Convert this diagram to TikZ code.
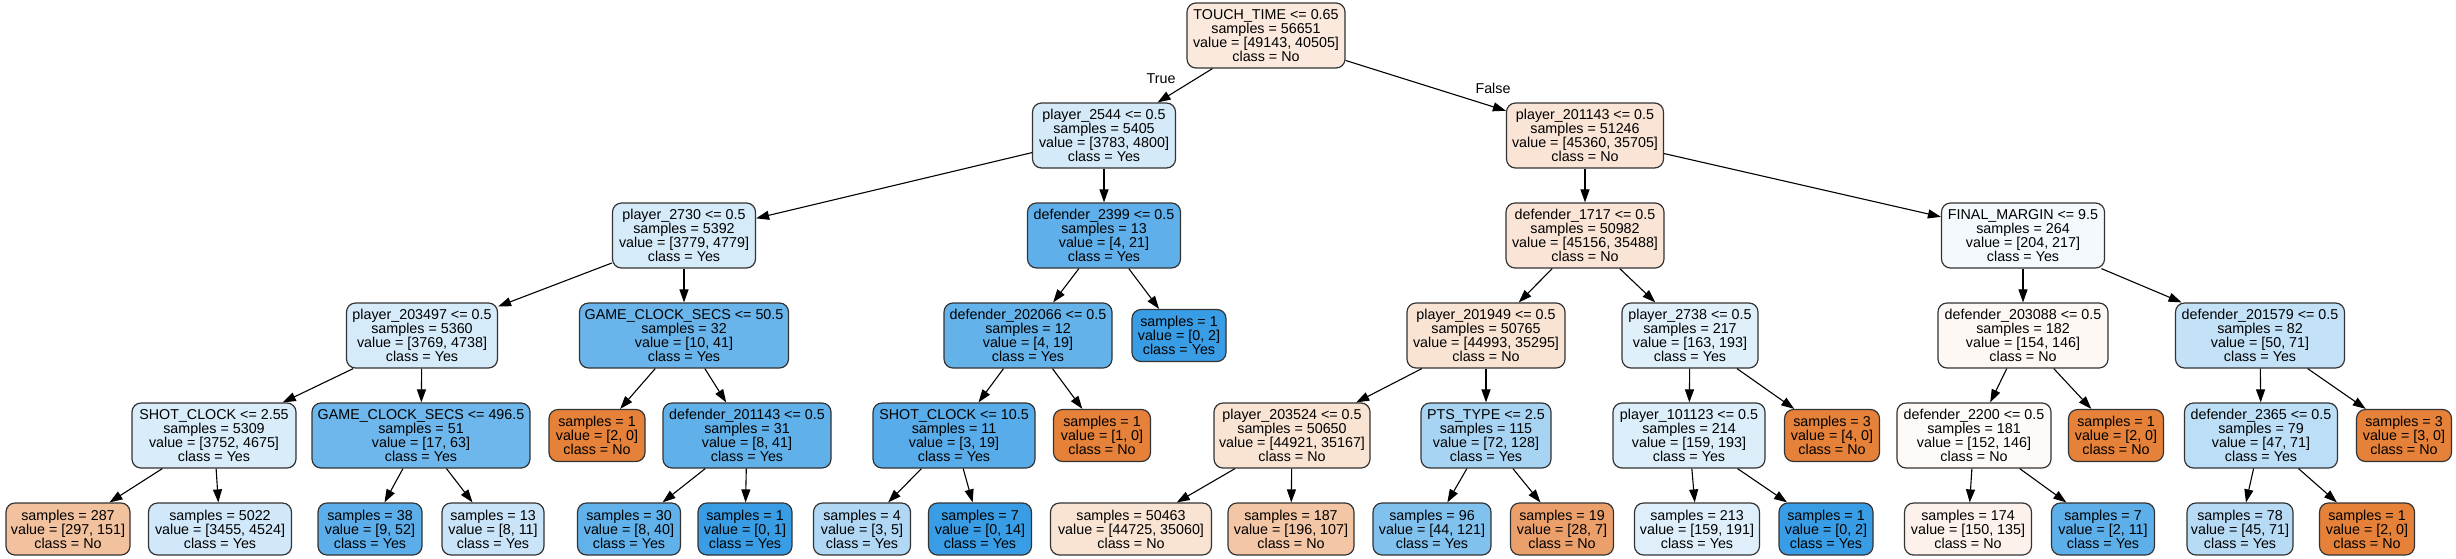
\documentclass[tikz,border=0pt]{standalone}
\usepackage{fontspec}
\setmainfont{Liberation Sans}
\usetikzlibrary{arrows.meta}
\definecolor{cno}{RGB}{229,129,57}
\definecolor{cyes}{RGB}{57,157,229}
\begin{document}
\begin{tikzpicture}[x=1pt,y=-1pt,
  tn/.style={draw=black!80, line width=1.2pt, rounded corners=9pt, inner sep=0pt, align=center,
    font=\fontsize{14.3}{14.1}\selectfont, minimum height=65pt},
  lf/.style={tn, minimum height=52pt},
  ed/.style={-{Triangle[length=13pt,width=9pt]}, line width=1.1pt, draw=black},
  lbl/.style={font=\fontsize{14.3}{14.1}\selectfont, inner sep=0pt}]
\useasboundingbox (0,0) rectangle (2456,558);
% row 0
\node[tn, minimum width=158pt, fill=cno!17.6!white] (root) at (1266,35.5) {TOUCH\_TIME <= 0.65\\samples = 56651\\value = [49143, 40505]\\class = No};
% row 1
\node[tn, minimum width=143pt, fill=cyes!21.2!white] (n2544) at (1104,135.5) {player\_2544 <= 0.5\\samples = 5405\\value = [3783, 4800]\\class = Yes};
\node[tn, minimum width=157pt, fill=cno!21.3!white] (n201143) at (1585,135.5) {player\_201143 <= 0.5\\samples = 51246\\value = [45360, 35705]\\class = No};
% row 2
\node[tn, minimum width=143pt, fill=cyes!20.9!white] (n2730) at (684,235.5) {player\_2730 <= 0.5\\samples = 5392\\value = [3779, 4779]\\class = Yes};
\node[tn, minimum width=153pt, fill=cyes!81!white] (d2399) at (1104,235.5) {defender\_2399 <= 0.5\\samples = 13\\value = [4, 21]\\class = Yes};
\node[tn, minimum width=158pt, fill=cno!21.4!white] (d1717) at (1585,235.5) {defender\_1717 <= 0.5\\samples = 50982\\value = [45156, 35488]\\class = No};
\node[tn, minimum width=163pt, fill=cyes!6!white] (fm) at (2023,235.5) {FINAL\_MARGIN <= 9.5\\samples = 264\\value = [204, 217]\\class = Yes};
% row 3
\node[tn, minimum width=151pt, fill=cyes!20.5!white] (p203497) at (422,335.5) {player\_203497 <= 0.5\\samples = 5360\\value = [3769, 4738]\\class = Yes};
\node[tn, minimum width=209pt, fill=cyes!75.6!white] (gcs50) at (684,335.5) {GAME\_CLOCK\_SECS <= 50.5\\samples = 32\\value = [10, 41]\\class = Yes};
\node[tn, minimum width=168pt, fill=cyes!79!white] (d202066) at (1028,335.5) {defender\_202066 <= 0.5\\samples = 12\\value = [4, 19]\\class = Yes};
\node[lf, minimum width=94pt, fill=cyes] (leafA) at (1179,335.5) {samples = 1\\value = [0, 2]\\class = Yes};
\node[tn, minimum width=158pt, fill=cno!21.6!white] (p201949) at (1486,335.5) {player\_201949 <= 0.5\\samples = 50765\\value = [44993, 35295]\\class = No};
\node[tn, minimum width=136pt, fill=cyes!15.5!white] (p2738) at (1690,335.5) {player\_2738 <= 0.5\\samples = 217\\value = [163, 193]\\class = Yes};
\node[tn, minimum width=170pt, fill=cno!5.2!white] (d203088) at (2023,335.5) {defender\_203088 <= 0.5\\samples = 182\\value = [154, 146]\\class = No};
\node[tn, minimum width=169pt, fill=cyes!29.6!white] (d201579) at (2260,335.5) {defender\_201579 <= 0.5\\samples = 82\\value = [50, 71]\\class = Yes};
% row 4
\node[tn, minimum width=164pt, fill=cyes!19.7!white] (sc255) at (214,435.5) {SHOT\_CLOCK <= 2.55\\samples = 5309\\value = [3752, 4675]\\class = Yes};
\node[tn, minimum width=218pt, fill=cyes!73!white] (gcs496) at (421,435.5) {GAME\_CLOCK\_SECS <= 496.5\\samples = 51\\value = [17, 63]\\class = Yes};
\node[lf, minimum width=96pt, fill=cno] (leafB) at (597,435.5) {samples = 1\\value = [2, 0]\\class = No};
\node[tn, minimum width=168pt, fill=cyes!80.5!white] (d201143) at (747,435.5) {defender\_201143 <= 0.5\\samples = 31\\value = [8, 41]\\class = Yes};
\node[tn, minimum width=162pt, fill=cyes!84.2!white] (sc105) at (954,435.5) {SHOT\_CLOCK <= 10.5\\samples = 11\\value = [3, 19]\\class = Yes};
\node[lf, minimum width=97pt, fill=cno] (leafC) at (1102,435.5) {samples = 1\\value = [1, 0]\\class = No};
\node[tn, minimum width=156pt, fill=cno!21.7!white] (p203524) at (1292,435.5) {player\_203524 <= 0.5\\samples = 50650\\value = [44921, 35167]\\class = No};
\node[tn, minimum width=130pt, fill=cyes!43.8!white] (pts) at (1486,435.5) {PTS\_TYPE <= 2.5\\samples = 115\\value = [72, 128]\\class = Yes};
\node[tn, minimum width=152pt, fill=cyes!17.6!white] (p101123) at (1689,435.5) {player\_101123 <= 0.5\\samples = 214\\value = [159, 193]\\class = Yes};
\node[lf, minimum width=95pt, fill=cno] (leafD) at (1832,435.5) {samples = 3\\value = [4, 0]\\class = No};
\node[tn, minimum width=154pt, fill=cno!4!white] (d2200) at (1974,435.5) {defender\_2200 <= 0.5\\samples = 181\\value = [152, 146]\\class = No};
\node[lf, minimum width=95pt, fill=cno] (leafE) at (2116,435.5) {samples = 1\\value = [2, 0]\\class = No};
\node[tn, minimum width=153pt, fill=cyes!33.8!white] (d2365) at (2261,435.5) {defender\_2365 <= 0.5\\samples = 79\\value = [47, 71]\\class = Yes};
\node[lf, minimum width=95pt, fill=cno] (leafF) at (2404,435.5) {samples = 3\\value = [3, 0]\\class = No};
% row 5
\node[lf, minimum width=124pt, fill=cno!49.2!white] (l287) at (68,529) {samples = 287\\value = [297, 151]\\class = No};
\node[lf, minimum width=143pt, fill=cyes!23.6!white] (l5022) at (220,529) {samples = 5022\\value = [3455, 4524]\\class = Yes};
\node[lf, minimum width=104pt, fill=cyes!82.7!white] (l38) at (370,529) {samples = 38\\value = [9, 52]\\class = Yes};
\node[lf, minimum width=102pt, fill=cyes!27.3!white] (l13) at (493,529) {samples = 13\\value = [8, 11]\\class = Yes};
\node[lf, minimum width=103pt, fill=cyes!80!white] (l30) at (629,529) {samples = 30\\value = [8, 40]\\class = Yes};
\node[lf, minimum width=94pt, fill=cyes] (l1a) at (745,529) {samples = 1\\value = [0, 1]\\class = Yes};
\node[lf, minimum width=97pt, fill=cyes!40!white] (l4) at (862,529) {samples = 4\\value = [3, 5]\\class = Yes};
\node[lf, minimum width=103pt, fill=cyes] (l7) at (980,529) {samples = 7\\value = [0, 14]\\class = Yes};
\node[lf, minimum width=161pt, fill=cno!21.6!white] (l50463) at (1131,529) {samples = 50463\\value = [44725, 35060]\\class = No};
\node[lf, minimum width=126pt, fill=cno!45.4!white] (l187) at (1291,529) {samples = 187\\value = [196, 107]\\class = No};
\node[lf, minimum width=118pt, fill=cyes!63.6!white] (l96) at (1432,529) {samples = 96\\value = [44, 121]\\class = Yes};
\node[lf, minimum width=103pt, fill=cno!75!white] (l19) at (1562,529) {samples = 19\\value = [28, 7]\\class = No};
\node[lf, minimum width=125pt, fill=cyes!16.8!white] (l213) at (1697,529) {samples = 213\\value = [159, 191]\\class = Yes};
\node[lf, minimum width=94pt, fill=cyes] (l1b) at (1826,529) {samples = 1\\value = [0, 2]\\class = Yes};
\node[lf, minimum width=127pt, fill=cno!10!white] (l174) at (1968,529) {samples = 174\\value = [150, 135]\\class = No};
\node[lf, minimum width=103pt, fill=cyes!81.8!white] (l7b) at (2103,529) {samples = 7\\value = [2, 11]\\class = Yes};
\node[lf, minimum width=106pt, fill=cyes!36.6!white] (l78) at (2240,529) {samples = 78\\value = [45, 71]\\class = Yes};
\node[lf, minimum width=95pt, fill=cno] (l1c) at (2367,529) {samples = 1\\value = [2, 0]\\class = No};
% edges
\draw[ed] (root) -- (n2544);
\draw[ed] (root) -- (n201143);
\node[lbl] (ltrue) at (1161,79) {True};
\node[lbl] (lfalse) at (1493,88) {False};
\draw[ed] (n2544) -- (n2730);
\draw[ed] (n2544) -- (d2399);
\draw[ed] (n201143) -- (d1717);
\draw[ed] (n201143) -- (fm);
\draw[ed] (n2730) -- (p203497);
\draw[ed] (n2730) -- (gcs50);
\draw[ed] (d2399) -- (d202066);
\draw[ed] (d2399) -- (leafA);
\draw[ed] (d1717) -- (p201949);
\draw[ed] (d1717) -- (p2738);
\draw[ed] (fm) -- (d203088);
\draw[ed] (fm) -- (d201579);
\draw[ed] (p203497) -- (sc255);
\draw[ed] (p203497) -- (gcs496);
\draw[ed] (gcs50) -- (leafB);
\draw[ed] (gcs50) -- (d201143);
\draw[ed] (d202066) -- (sc105);
\draw[ed] (d202066) -- (leafC);
\draw[ed] (p201949) -- (p203524);
\draw[ed] (p201949) -- (pts);
\draw[ed] (p2738) -- (p101123);
\draw[ed] (p2738) -- (leafD);
\draw[ed] (d203088) -- (d2200);
\draw[ed] (d203088) -- (leafE);
\draw[ed] (d201579) -- (d2365);
\draw[ed] (d201579) -- (leafF);
\draw[ed] (sc255) -- (l287);
\draw[ed] (sc255) -- (l5022);
\draw[ed] (gcs496) -- (l38);
\draw[ed] (gcs496) -- (l13);
\draw[ed] (d201143) -- (l30);
\draw[ed] (d201143) -- (l1a);
\draw[ed] (sc105) -- (l4);
\draw[ed] (sc105) -- (l7);
\draw[ed] (p203524) -- (l50463);
\draw[ed] (p203524) -- (l187);
\draw[ed] (pts) -- (l96);
\draw[ed] (pts) -- (l19);
\draw[ed] (p101123) -- (l213);
\draw[ed] (p101123) -- (l1b);
\draw[ed] (d2200) -- (l174);
\draw[ed] (d2200) -- (l7b);
\draw[ed] (d2365) -- (l78);
\draw[ed] (d2365) -- (l1c);
\end{tikzpicture}
\end{document}
